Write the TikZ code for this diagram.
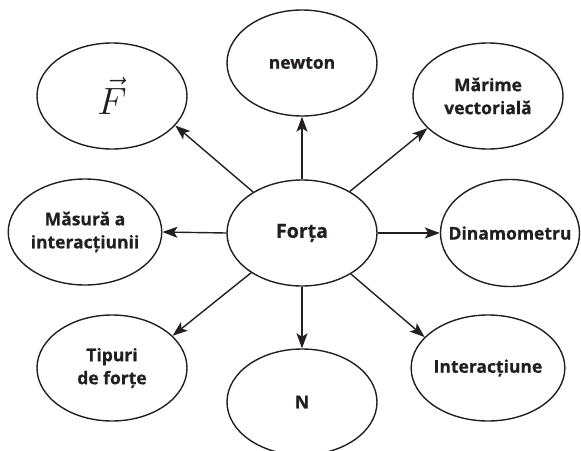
\documentclass[tikz,border=0pt]{standalone}
\usepackage{fontspec}
\newfontfamily\labelfont[BoldFeatures={FakeBold=0.8}]{Open Sans}
\usetikzlibrary{shapes.geometric,arrows.meta}
\definecolor{ink}{HTML}{231F20}
\tikzset{
  bubble/.style={ellipse, draw=ink, line width=1.4pt, minimum width=150pt, minimum height=106pt,
    inner sep=0pt, align=center, text=ink, font=\labelfont\bfseries\fontsize{17.5}{23}\selectfont},
  link/.style={draw=ink, line width=1.4pt, -{Stealth[length=15pt,width=11pt,inset=3.5pt]}}
}
\begin{document}
\begin{tikzpicture}[x=1pt,y=-1pt]
\useasboundingbox (0,0) rectangle (581,450);
\node[bubble, font=\labelfont\bfseries\fontsize{19.5}{24}\selectfont] (forta) at (302,233) {Forța};
\node[bubble] (vecf) at (112,96) {\normalfont\scalebox{2.2}{$\vec{F}$}};
\node[bubble] (newton) at (302,63) {newton};
\node[bubble] (marime) at (488,96) {Mărime\\vectorială};
\node[bubble] (masura) at (85,232) {Măsură a\\interacțiunii};
\node[bubble, minimum width=139pt, minimum height=107pt] (dinam) at (510,233) {\makebox[0pt]{Dinamometru}};
\node[bubble] (tipuri) at (112,368) {Tipuri\\de forțe};
\node[bubble] (unit) at (302,402) {N};
\node[bubble] (inter) at (488,368) {Interacțiune};
\draw[link] (forta.140) -- (vecf.-25);
\draw[link] (forta.north) -- (newton.south);
\draw[link] (forta.41) -- (marime.-152);
\draw[link] (forta.west) -- (masura.east);
\draw[link] (forta.east) -- (dinam.west);
\draw[link] (forta.-142) -- (tipuri.28);
\draw[link] (forta.south) -- (unit.north);
\draw[link] (forta.-40) -- (inter.154);
\end{tikzpicture}
\end{document}
